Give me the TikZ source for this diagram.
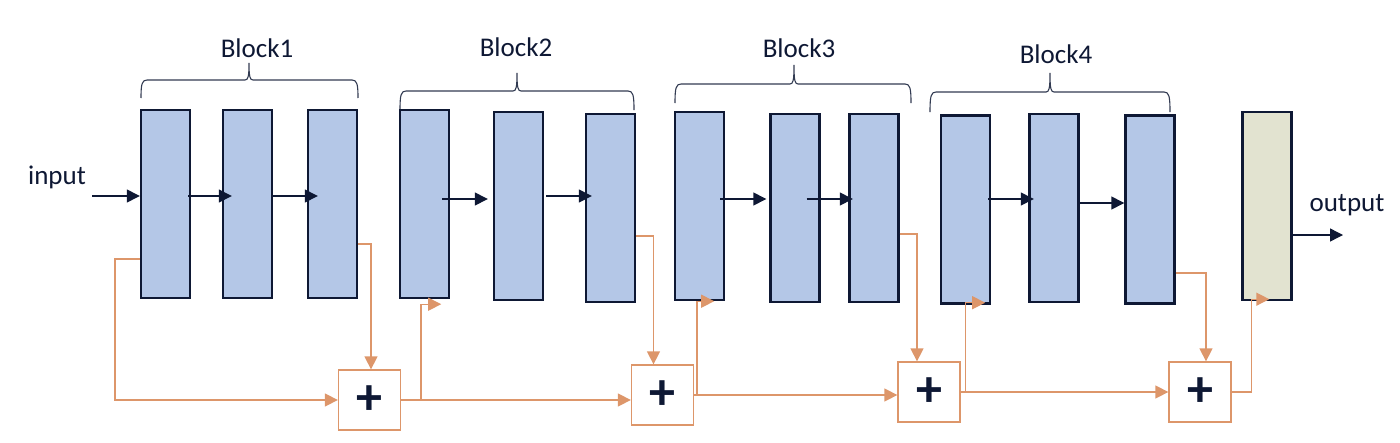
\documentclass[tikz,border=0pt]{standalone}
\usepackage{fontspec}
\setmainfont{Carlito}
\usetikzlibrary{arrows.meta,calc}
\definecolor{navy}{RGB}{14,24,52}
\definecolor{blk}{RGB}{180,199,231}
\definecolor{outfill}{RGB}{226,227,208}
\definecolor{org}{RGB}{221,150,106}
% #1 x left, #2 x right, #3 x tip, #4 y bar, #5 y tip, #6 y ends
\newcommand{\blockbrace}[6]{%
  \draw[brc] (#1,#6) .. controls (#1,#4+4) and (#1+1,#4) .. (#1+6,#4)
    -- (#3-4,#4) .. controls (#3-1,#4) and (#3,#4-3) .. (#3,#5)
    .. controls (#3,#4-3) and (#3+1,#4) .. (#3+4,#4)
    -- (#2-6,#4) .. controls (#2-1,#4) and (#2,#4+4) .. (#2,#6);}
\begin{document}
\begin{tikzpicture}[x=1pt,y=-1pt,
  layer/.style={draw=navy, line width=2.4pt, fill=blk, minimum width=49pt,
    minimum height=188pt, inner sep=0pt},
  outlayer/.style={layer, fill=outfill},
  addbox/.style={draw=org, line width=1.3pt, fill=white, minimum width=62pt,
    minimum height=60pt, inner sep=0pt, text=navy,
    font=\fontsize{52}{52}\selectfont\bfseries},
  lbl/.style={font=\fontsize{27}{30}\selectfont, text=navy, inner sep=0pt},
  flow/.style={draw=navy, line width=1.4pt, -{Triangle[length=13pt,width=13pt]}},
  skip/.style={draw=org, line width=1.4pt, -{Triangle[length=13pt,width=13pt]}},
  brc/.style={draw=navy!85, line width=1.1pt}]
\useasboundingbox (0,0) rectangle (1400,442);

% labels
\node[lbl] (lb1) at (257,48) {Block1};
\node[lbl] (lb2) at (516,47) {Block2};
\node[lbl] (lb3) at (799,48) {Block3};
\node[lbl] (lb4) at (1056,54) {Block4};
\node[lbl] (lin) at (57,177) {input};
\node[lbl] (lout) at (1347,205) {output};

% braces
\blockbrace{141}{358}{249}{80}{63}{98}
\blockbrace{400}{634}{517}{91}{73}{110}
\blockbrace{675}{911}{794}{84}{65}{103}
\blockbrace{930}{1170}{1050}{92}{73}{112}

% layers
\node[layer] (r1) at (165.5,204) {};
\node[layer] (r2) at (247.5,204) {};
\node[layer] (r3) at (332.5,204) {};
\node[layer] (r4) at (424.5,204) {};
\node[layer] (r5) at (518.5,206) {};
\node[layer] (r6) at (610.5,208) {};
\node[layer] (r7) at (699.5,206) {};
\node[layer] (r8) at (795,208) {};
\node[layer] (r9) at (874,208) {};
\node[layer] (r10) at (965.5,209.5) {};
\node[layer] (r11) at (1054,208) {};
\node[layer] (r12) at (1150,209.5) {};
\node[outlayer] (out) at (1267,206) {};

% add boxes
\node[addbox] (b1) at (369.5,400) {+};
\node[addbox] (b2) at (662.5,395) {+};
\node[addbox] (b3) at (929,392) {+};
\node[addbox] (b4) at (1200,392) {+};

% main flow
\coordinate (inp) at (92,196);
\coordinate (outend) at (1343,235);
\draw[flow] (inp) -- ([yshift=8pt]r1.west);
\draw[flow] ([xshift=-3pt,yshift=8pt]r1.east) -- ([xshift=10pt,yshift=8pt]r2.west);
\draw[flow] ([yshift=8pt]r2.east) -- ([xshift=11pt,yshift=8pt]r3.west);
\draw[flow] ([xshift=-8pt,yshift=5pt]r4.east) -- ([xshift=-5pt,yshift=7pt]r5.west);
\draw[flow] ([xshift=2pt,yshift=10pt]r5.east) -- ([xshift=7pt,yshift=12pt]r6.west);
\draw[flow] ([xshift=-5pt,yshift=7pt]r7.east) -- ([xshift=-3pt,yshift=9pt]r8.west);
\draw[flow] ([xshift=-14pt,yshift=9pt]r8.east) -- ([xshift=4.5pt,yshift=9pt]r9.west);
\draw[flow] ([xshift=-3pt,yshift=10.5pt]r10.east) -- ([xshift=5.5pt,yshift=9pt]r11.west);
\draw[flow] ([yshift=5pt]r11.east) -- ([yshift=6.5pt]r12.west);
\draw[flow] ([yshift=-29pt]out.east) -- (outend);

% skip connections
\draw[skip] ([yshift=-55pt]r1.west) -| ([xshift=-223pt]b1.west) -- (b1.west);
\draw[skip] ([yshift=-40pt]r3.east) -| ([xshift=1.5pt]b1.north);
\draw[skip] (b1.east) -- ++(20,0) |- ([xshift=-9pt,yshift=-5pt]r4.south east);
\draw[skip] (b1.east) -- (b1.east -| b2.west);
\draw[skip] ([yshift=-28pt]r6.east) -| ([xshift=-9pt]b2.north);
\draw[skip] (b2.east) -- ++(3,0) |- ([xshift=-11pt]r7.south east);
\draw[skip] (b2.east) -- (b2.east -| b3.west);
\draw[skip] ([yshift=-26pt]r9.east) -| ([xshift=-12pt]b3.north);
\draw[skip] (b3.east) -- ++(5,0) |- ([xshift=-6pt,yshift=2pt]r10.south east);
\draw[skip] (b3.east) -- (b3.east -| b4.west);
\draw[skip] ([yshift=-63.5pt]r12.east) -| ([xshift=6pt]b4.north);
\draw[skip] (b4.east) -- ++(20,0) |- ([xshift=28pt,yshift=2pt]out.south west);
\end{tikzpicture}
\end{document}
